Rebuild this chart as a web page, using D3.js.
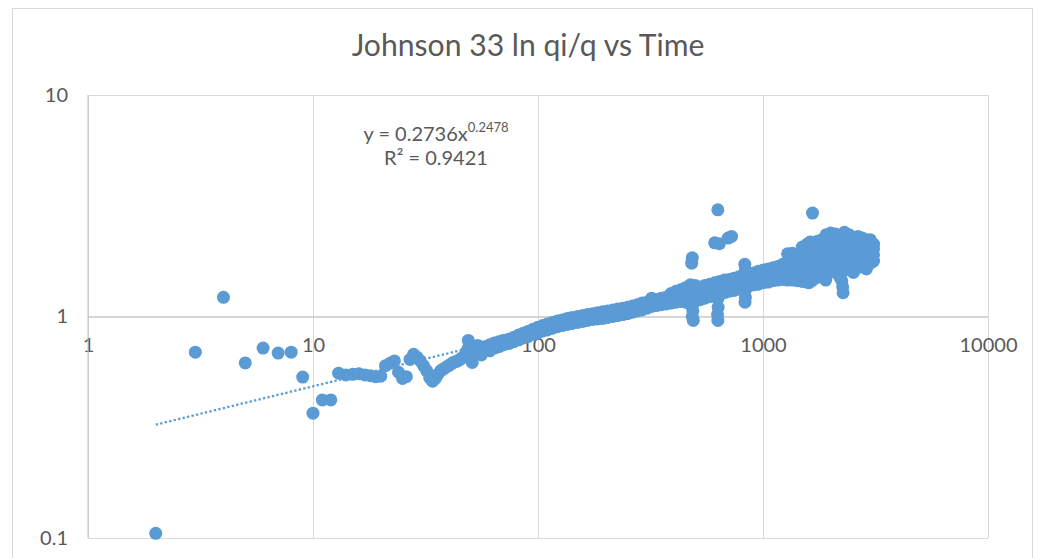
<!DOCTYPE html>
<html>
<head>
<meta charset="utf-8">
<script src="https://cdn.jsdelivr.net/npm/d3@7"></script>
<style>
  body { margin: 0; background: #ffffff; }
  svg { display: block; }
  text { font-family: Lato, "Open Sans", "DejaVu Sans", sans-serif; fill: #595959; }
</style>
</head>
<body>
<svg id="chart" width="1044" height="558"></svg>
<script>
// ---- data -------------------------------------------------------------
const chartTitle = "Johnson 33 ln qi/q vs Time";
const xTickValues = [1, 10, 100, 1000, 10000];
const yTickValues = [0.1, 1, 10];

// power-law trendline y = a * x^b
const trendA = 0.2736;
const trendB = 0.2478;
const trendR2 = 0.9421;

// first days: [time, ln(qi/q)]
const earlyPoints = [
  [2, 0.105], [3, 0.69], [4, 1.22], [5, 0.617], [6, 0.72], [7, 0.684], [8, 0.69],
  [9, 0.533], [10, 0.366], [11, 0.42], [12, 0.42], [13, 0.555], [14, 0.545],
  [15, 0.548], [16, 0.552], [17, 0.545], [18, 0.54], [19, 0.535], [20, 0.538],
  [21, 0.60], [22, 0.615], [23, 0.63], [24, 0.56], [25, 0.525], [26, 0.535],
  [27, 0.64], [28, 0.675], [29, 0.655], [30, 0.63], [31, 0.60], [32, 0.57],
  [33, 0.53], [34, 0.51], [35, 0.525], [36, 0.55], [37, 0.57], [38, 0.58],
  [39, 0.59], [40, 0.60], [41, 0.61], [42, 0.62], [43, 0.625], [44, 0.63],
  [45, 0.64], [46, 0.65], [47, 0.66], [48, 0.69], [49, 0.78], [49, 0.72],
  [50, 0.66], [51, 0.62], [52, 0.68], [53, 0.70], [54, 0.74], [56, 0.67]
];

// main trend: [time, ratio, ratio, ...] (several readings per time)
const bandRows = [
  [55, 0.69, 0.72], [58, 0.70, 0.73], [61, 0.70, 0.745], [64, 0.72, 0.76],
  [67, 0.73, 0.77], [70, 0.745, 0.78], [74, 0.755, 0.79], [78, 0.77, 0.805],
  [82, 0.785, 0.825], [86, 0.80, 0.84], [90, 0.81, 0.855], [95, 0.83, 0.875],
  [100, 0.845, 0.87, 0.895], [105, 0.86, 0.885, 0.91], [110, 0.87, 0.90, 0.925],
  [116, 0.885, 0.915, 0.94], [122, 0.90, 0.93, 0.955], [128, 0.91, 0.94, 0.965],
  [135, 0.92, 0.955, 0.98], [142, 0.93, 0.965, 0.99], [150, 0.94, 0.975, 1.0],
  [158, 0.95, 0.985, 1.01], [166, 0.96, 0.995, 1.02], [175, 0.97, 1.005, 1.03],
  [184, 0.975, 1.015, 1.04], [194, 0.98, 1.02, 1.05], [204, 0.99, 1.03, 1.06],
  [215, 1.0, 1.04, 1.07], [226, 1.01, 1.05, 1.08], [238, 1.02, 1.06, 1.09],
  [250, 1.03, 1.07, 1.10], [263, 1.045, 1.085, 1.115], [276, 1.06, 1.10, 1.13],
  [290, 1.07, 1.11, 1.15], [305, 1.09, 1.13, 1.16], [320, 1.11, 1.15, 1.19, 1.21],
  [336, 1.12, 1.16, 1.19], [353, 1.13, 1.17, 1.21], [371, 1.14, 1.18, 1.22],
  [390, 1.15, 1.21, 1.27], [410, 1.16, 1.23, 1.30], [431, 1.17, 1.24, 1.32],
  [453, 1.16, 1.26, 1.35], [476, 1.15, 1.27, 1.39], [500, 1.17, 1.28, 1.38],
  [525, 1.19, 1.28, 1.36], [552, 1.21, 1.30, 1.38], [580, 1.23, 1.32, 1.40],
  [610, 1.25, 1.34, 1.42], [641, 1.27, 1.36, 1.44], [674, 1.28, 1.37, 1.46],
  [708, 1.30, 1.38, 1.47], [744, 1.31, 1.40, 1.49], [782, 1.33, 1.42, 1.51],
  [822, 1.35, 1.44, 1.53], [864, 1.37, 1.46, 1.56], [908, 1.39, 1.48, 1.57],
  [954, 1.40, 1.50, 1.60], [1003, 1.42, 1.52, 1.62], [1054, 1.43, 1.53, 1.64],
  [1108, 1.45, 1.55, 1.66], [1164, 1.46, 1.57, 1.68], [1224, 1.47, 1.59, 1.72],
  [1286, 1.46, 1.60, 1.76, 1.92], [1352, 1.46, 1.60, 1.76, 1.90],
  [1421, 1.45, 1.58, 1.74, 1.88], [1494, 1.44, 1.58, 1.74, 1.90, 2.06],
  [1570, 1.43, 1.58, 1.76, 1.94, 2.12], [1650, 1.45, 1.62, 1.80, 1.98, 2.10],
  [1734, 1.50, 1.66, 1.84, 2.02, 2.18], [1820, 1.52, 1.70, 1.88, 2.06, 2.22],
  [1910, 1.56, 1.72, 1.90, 2.08, 2.26, 2.34], [2000, 1.60, 1.76, 1.93, 2.10, 2.26, 2.38],
  [2100, 1.58, 1.74, 1.92, 2.10, 2.28, 2.36], [2200, 1.50, 1.68, 1.86, 2.04, 2.20, 2.30],
  [2300, 1.62, 1.78, 1.95, 2.12, 2.28, 2.40], [2410, 1.63, 1.78, 1.96, 2.12, 2.28, 2.34],
  [2520, 1.58, 1.74, 1.92, 2.10, 2.24], [2640, 1.66, 1.82, 1.98, 2.13, 2.30],
  [2760, 1.68, 1.84, 2.00, 2.14, 2.26], [2880, 1.64, 1.80, 1.96, 2.12, 2.22],
  [3000, 1.74, 1.88, 2.02, 2.14, 2.22], [3100, 1.78, 1.90, 2.02, 2.12]
];

// excursions away from the main trend: [time, ratio]
const outlierPoints = [
  [482, 1.74], [485, 1.84], [480, 1.12], [488, 1.06], [485, 1.00], [490, 0.96],
  [630, 3.03], [610, 2.15], [640, 2.13], [700, 2.26], [725, 2.30],
  [630, 1.20], [632, 1.10], [628, 1.02], [630, 0.96],
  [830, 1.72], [835, 1.62], [830, 1.30], [835, 1.22], [832, 1.16],
  [1350, 1.93], [1660, 2.93], [1620, 2.17], [1600, 1.42], [1680, 1.48],
  [2270, 1.28], [2260, 1.36], [2240, 1.45], [1900, 1.46], [1880, 1.50]
];

// ---- layout -----------------------------------------------------------
const plot = { left: 88, right: 988, top: 95, bottom: 538 };
const blue = "#5B9BD5";
const gridColor = "#D9D9D9";

const svg = d3.select("#chart");

// chart area frame
svg.append("rect")
  .attr("x", 12.5).attr("y", 8.5)
  .attr("width", 1020).attr("height", 600)
  .attr("fill", "#fff").attr("stroke", "#D9D9D9").attr("stroke-width", 1);

const x = d3.scaleLog().domain([1, 10000]).range([plot.left, plot.right]);
const y = d3.scaleLog().domain([0.1, 10]).range([plot.bottom, plot.top]);

const fmt = d => d3.format("~g")(d);

// vertical gridlines
svg.append("g")
  .attr("transform", `translate(0,${plot.bottom})`)
  .call(d3.axisBottom(x).tickValues(xTickValues).tickFormat("")
        .tickSize(-(plot.bottom - plot.top)).tickSizeOuter(0))
  .call(g => g.select(".domain").remove())
  .call(g => g.selectAll("line").attr("stroke", gridColor).attr("stroke-width", 1));

// horizontal gridlines + value labels
svg.append("g")
  .attr("transform", `translate(${plot.left},0)`)
  .call(d3.axisLeft(y).tickValues(yTickValues).tickFormat(fmt)
        .tickSize(-(plot.right - plot.left)).tickPadding(20).tickSizeOuter(0))
  .call(g => g.select(".domain").remove())
  .call(g => g.selectAll("line").attr("stroke", gridColor).attr("stroke-width", 1))
  .call(g => g.selectAll("text").attr("font-size", 20).attr("fill", "#595959")
        .style("font-family", "Lato, 'Open Sans', sans-serif"));

// horizontal axis crossing at y = 1
svg.append("g")
  .attr("transform", `translate(0,${y(1)})`)
  .call(d3.axisBottom(x).tickValues(xTickValues).tickFormat(fmt)
        .tickSize(0).tickPadding(21.5))
  .call(g => g.select(".domain").attr("stroke", "#BFBFBF").attr("stroke-width", 1))
  .call(g => g.selectAll("text").attr("font-size", 20).attr("fill", "#595959")
        .style("font-family", "Lato, 'Open Sans', sans-serif"));

// vertical axis line
svg.append("line")
  .attr("x1", x(1)).attr("x2", x(1))
  .attr("y1", y(10)).attr("y2", y(0.1))
  .attr("stroke", "#BFBFBF").attr("stroke-width", 1);

// ---- points -----------------------------------------------------------
const points = [];
earlyPoints.forEach(([t, v]) => points.push([t, v]));
bandRows.forEach(([t, ...vals]) => vals.forEach(v => points.push([t, v])));
outlierPoints.forEach(([t, v]) => points.push([t, v]));

svg.append("g")
  .selectAll("circle")
  .data(points)
  .join("circle")
  .attr("cx", d => x(d[0]))
  .attr("cy", d => y(d[1]))
  .attr("r", 6.5)
  .attr("fill", blue);

// ---- power trendline ----------------------------------------------------
const tMin = d3.min(points, d => d[0]);
const tMax = d3.max(points, d => d[0]);
const trendPts = d3.range(0, 61).map(i => {
  const t = Math.pow(10, Math.log10(tMin) + (Math.log10(tMax) - Math.log10(tMin)) * i / 60);
  return [t, trendA * Math.pow(t, trendB)];
});
svg.append("path")
  .datum(trendPts)
  .attr("d", d3.line().x(d => x(d[0])).y(d => y(d[1])))
  .attr("fill", "none")
  .attr("stroke", blue)
  .attr("stroke-width", 2.3)
  .attr("stroke-dasharray", "2.3 2.3");

// ---- trendline equation -----------------------------------------------
const eq = svg.append("text")
  .attr("x", 436).attr("y", 141)
  .attr("text-anchor", "middle")
  .attr("font-size", 20);
eq.append("tspan").text(`y = ${trendA}x`);
eq.append("tspan").attr("font-size", 13).attr("dy", -9).text(`${trendB}`);

svg.append("text")
  .attr("x", 436).attr("y", 165)
  .attr("text-anchor", "middle")
  .attr("font-size", 20)
  .text(`R² = ${trendR2}`);

// ---- title --------------------------------------------------------------
const title = svg.append("text")
  .attr("x", 528).attr("y", 56)
  .attr("text-anchor", "middle")
  .attr("font-size", 32)
  .text(chartTitle);
const tw = title.node().getComputedTextLength();
title.attr("font-size", 32 * 353 / tw);
</script>
</body>
</html>
